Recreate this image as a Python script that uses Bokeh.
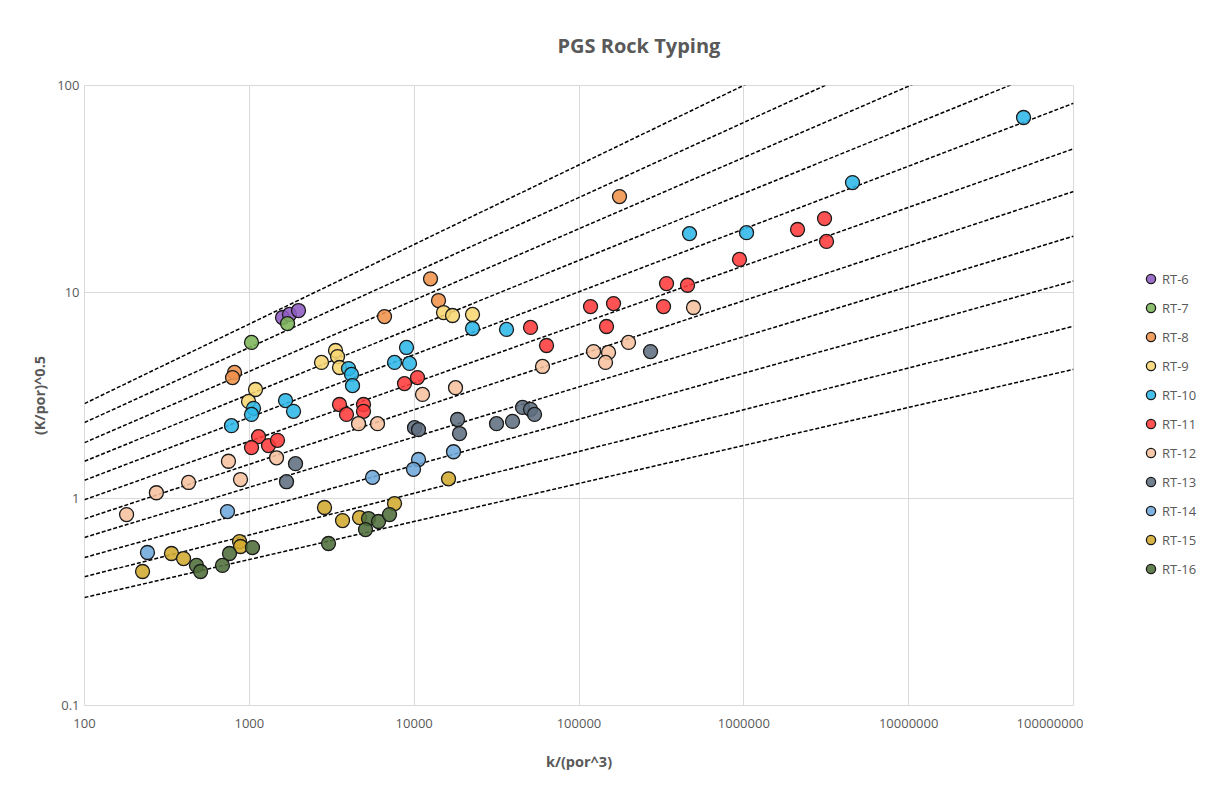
from bokeh.plotting import figure
from bokeh.layouts import row
from bokeh.models import FixedTicker, Legend, LegendItem, Range1d
from bokeh.embed import file_html
from bokeh.resources import INLINE
import numpy as np

# ---------------- data ----------------
series_names = ["RT-6", "RT-7", "RT-8", "RT-9", "RT-10", "RT-11",
                "RT-12", "RT-13", "RT-14", "RT-15", "RT-16"]
series_colors = ["#8E5CC2", "#7CB55A", "#F0924C", "#F7D672", "#2EB8E8", "#FF3B3B",
                 "#F6C29E", "#5F6E80", "#6FA8DC", "#D1AA2E", "#4F6E3A"]

rt6_x = [1590, 1753, 1988]
rt6_y = [7.54, 7.80, 8.15]
rt7_x = [1705, 1031]
rt7_y = [7.05, 5.71]
rt8_x = [813, 791, 6608, 12566, 14052, 176120]
rt8_y = [4.09, 3.86, 7.62, 11.6, 9.11, 29.0]
rt9_x = [1090, 989, 2741, 3333, 3428, 3524, 15071, 17088, 22594]
rt9_y = [3.38, 2.96, 4.57, 5.22, 4.88, 4.32, 7.97, 7.71, 7.80]
rt10_x = [1658, 1854, 1060, 1031, 779, 3997, 4168, 4227, 8985, 7600, 9372,
          22594, 36334, 468190, 1038500, 4564000, 49770000]
rt10_y = [2.99, 2.65, 2.74, 2.56, 2.26, 4.27, 4.00, 3.53, 5.40, 4.57, 4.52,
          6.67, 6.60, 19.2, 19.4, 33.9, 70.0]
rt11_x = [3524, 3886, 4928, 4928, 8738, 10478, 1137, 1031, 1307, 1482, 50804,
          63534, 117495, 161960, 325700, 146880, 339640, 455290, 941330,
          2117600, 3087500, 3174300]
rt11_y = [2.86, 2.56, 2.86, 2.65, 3.61, 3.86, 2.00, 1.77, 1.81, 1.92, 6.75,
          5.52, 8.52, 8.81, 8.52, 6.82, 11.0, 10.8, 14.4, 20.1, 22.7, 17.6]
rt12_x = [4597, 5992, 11236, 17820, 60080, 1462, 747, 884, 428, 273, 180,
          122519, 151040, 144830, 199740, 495170]
rt12_y = [2.31, 2.31, 3.20, 3.45, 4.37, 1.58, 1.52, 1.24, 1.20, 1.07, 0.839,
          5.16, 5.11, 4.57, 5.71, 8.43]
rt13_x = [1906, 1681, 10048, 10626, 18324, 18843, 31594, 39508, 45435, 50804,
          53729, 271650]
rt13_y = [1.48, 1.21, 2.21, 2.16, 2.42, 2.07, 2.31, 2.37, 2.77, 2.71, 2.56, 5.16]
rt14_x = [5588, 737, 241, 10626, 9909, 17327]
rt14_y = [1.27, 0.868, 0.550, 1.55, 1.39, 1.69]
rt15_x = [2858, 3676, 4662, 225, 337, 399, 872, 884, 7600, 16161]
rt15_y = [0.908, 0.785, 0.812, 0.445, 0.544, 0.514, 0.621, 0.588, 0.949, 1.25]
rt16_x = [5284, 6077, 5068, 7086, 3022, 758, 1045, 478, 506, 687]
rt16_y = [0.803, 0.777, 0.710, 0.839, 0.608, 0.544, 0.581, 0.476, 0.445, 0.476]

series_x = [rt6_x, rt7_x, rt8_x, rt9_x, rt10_x, rt11_x, rt12_x, rt13_x, rt14_x, rt15_x, rt16_x]
series_y = [rt6_y, rt7_y, rt8_y, rt9_y, rt10_y, rt11_y, rt12_y, rt13_y, rt14_y, rt15_y, rt16_y]

# rock-type boundary lines: y = y_at_100 * (x / 100) ** exponent
line_y_at_100 = [2.89, 2.34, 1.87, 1.52, 1.23, 0.99, 0.80, 0.65, 0.52, 0.42, 0.333]
line_exponent = [0.385, 0.363, 0.345, 0.324, 0.304, 0.283, 0.264, 0.243, 0.223, 0.202, 0.184]

x_ticks = [100, 1000, 10000, 100000, 1000000, 10000000, 100000000]
x_tick_labels = ["100", "1000", "10000", "100000", "1000000", "10000000", "100000000"]
y_ticks = [0.1, 1, 10, 100]
y_tick_labels = ["0.1", "1", "10", "100"]

# ---------------- main figure ----------------
TXT = "#595959"
FONT = "Open Sans"

p = figure(width=1083, height=780, x_axis_type="log", y_axis_type="log",
           x_range=Range1d(100, 1e8), y_range=Range1d(0.1, 100),
           output_backend="svg", toolbar_location=None,
           min_border_left=84, min_border_right=10,
           min_border_top=85, min_border_bottom=75)

p.title.text = "PGS Rock Typing"
p.title.align = "left"
p.title.offset = 473
p.title.text_font = FONT
p.title.text_font_size = "20px"
p.title.text_font_style = "bold"
p.title.text_color = TXT
p.title.standoff = 53

p.outline_line_color = "#d9d9d9"
p.outline_line_width = 1

for ax, ticks, labels in ((p.xaxis, x_ticks, x_tick_labels), (p.yaxis, y_ticks, y_tick_labels)):
    ax.ticker = FixedTicker(ticks=ticks, minor_ticks=[])
    ax.major_label_overrides = {t: l for t, l in zip(ticks, labels)}
    ax.axis_line_color = None
    ax.major_tick_line_color = None
    ax.minor_tick_line_color = None
    ax.major_tick_out = 0
    ax.major_tick_in = 0
    ax.minor_tick_out = 0
    ax.minor_tick_in = 0
    ax.major_label_text_font = FONT
    ax.major_label_text_font_size = "13px"
    ax.major_label_text_color = TXT
    ax.axis_label_text_font = FONT
    ax.axis_label_text_font_size = "14.5px"
    ax.axis_label_text_font_style = "bold"
    ax.axis_label_text_color = TXT

p.xaxis.axis_label = "k/(por^3)"
p.yaxis.axis_label = "(K/por)^0.5"
p.xaxis.major_label_standoff = 13
p.xaxis.axis_label_standoff = 21
p.yaxis.major_label_standoff = 5
p.yaxis.axis_label_standoff = 5

p.xgrid.grid_line_color = "#d9d9d9"
p.ygrid.grid_line_color = "#d9d9d9"
p.xgrid.grid_line_width = 1
p.ygrid.grid_line_width = 1

# boundary lines
line_x = np.array([100.0, 1e8])
for a, b in zip(line_y_at_100, line_exponent):
    p.line(line_x, a * (line_x / 100.0) ** b, line_color="black",
           line_width=1.5, line_dash="4 2")

# points
for name, color, xs, ys in zip(series_names, series_colors, series_x, series_y):
    p.scatter(xs, ys, size=14, marker="circle", fill_color=color,
              fill_alpha=0.88, line_color="#1a1a1a", line_width=1.3)

# ---------------- legend panel ----------------
lg = figure(width=120, height=780, output_backend="svg", toolbar_location=None,
            x_axis_location=None, y_axis_location=None,
            x_range=Range1d(0, 1), y_range=Range1d(0, 1),
            min_border_left=0, min_border_right=0, min_border_top=0, min_border_bottom=0)
lg.outline_line_color = None
lg.xgrid.visible = False
lg.ygrid.visible = False

items = []
for name, color in zip(series_names, series_colors):
    # a single off-range point so the legend has a glyph to draw
    r = lg.scatter(x=[-10], y=[-10], size=14, marker="circle", fill_color=color,
                   fill_alpha=0.88, line_color="#1a1a1a", line_width=1.3)
    items.append(LegendItem(label=name, renderers=[r]))

legend = Legend(items=items, location=(56, 125), orientation="vertical",
                glyph_width=23, glyph_height=23, label_height=23, spacing=6,
                label_standoff=-7, padding=0, margin=0,
                border_line_color=None, background_fill_alpha=0,
                label_text_font=FONT, label_text_font_size="13px",
                label_text_color=TXT)
lg.add_layout(legend, "center")

layout = row(p, lg, spacing=0)
open("out.html", "w").write(file_html(layout, INLINE))
